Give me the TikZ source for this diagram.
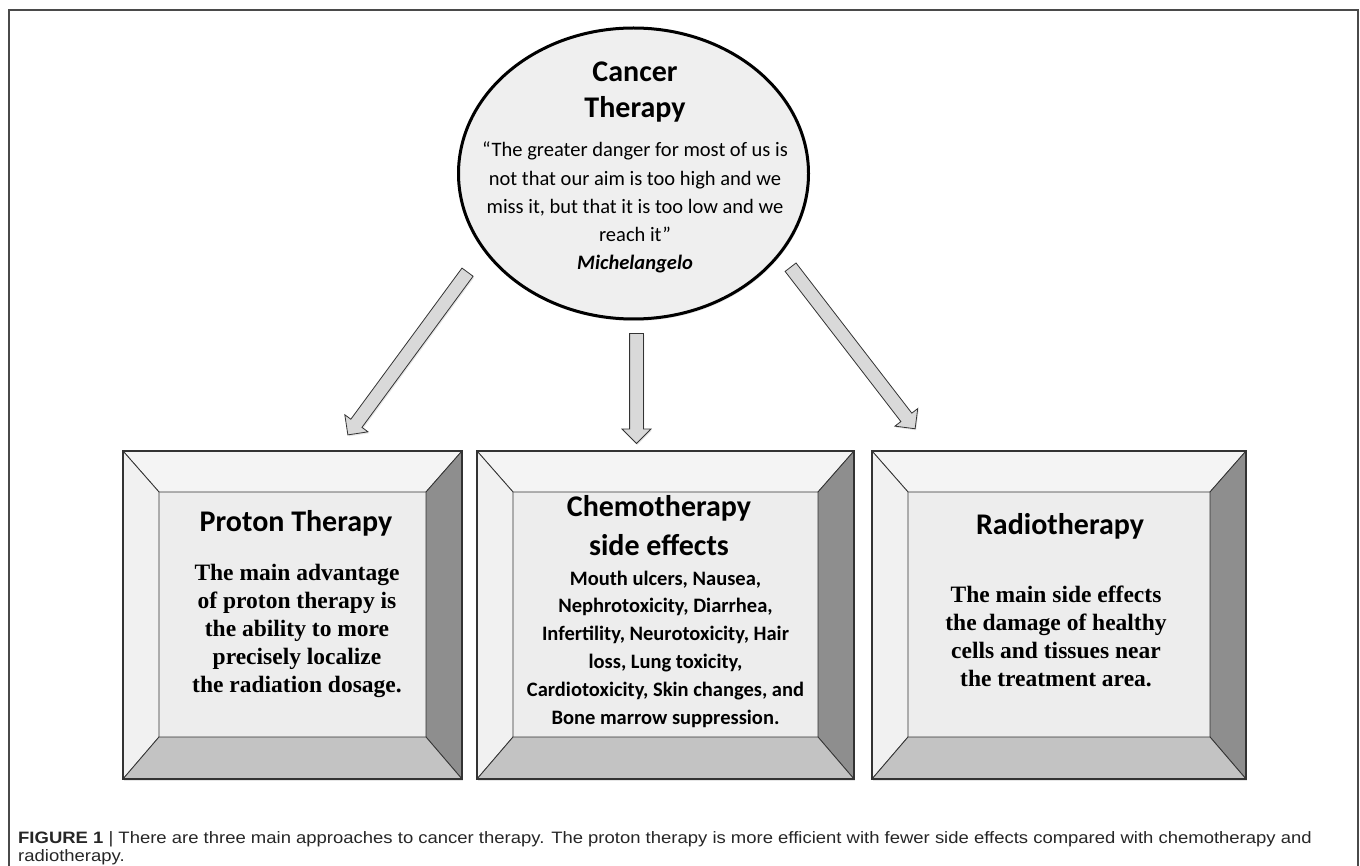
\documentclass[tikz,border=0pt]{standalone}
\usepackage{fontspec}
\setmainfont{Carlito}
\newfontfamily\serifb{Liberation Serif}
\newfontfamily\captf[FakeStretch=1.12]{Liberation Sans}
\usetikzlibrary{shapes.geometric,shapes.arrows,shadows}

\definecolor{frameline}{HTML}{4A4A4A}
\definecolor{boxedge}{HTML}{333333}
\definecolor{bvface}{HTML}{EDEDED}
\definecolor{bvtop}{HTML}{F4F4F4}
\definecolor{bvleft}{HTML}{F1F1F1}
\definecolor{bvright}{HTML}{8E8E8E}
\definecolor{bvbottom}{HTML}{C3C3C3}
\definecolor{ovalfill}{HTML}{EFEFEF}
\definecolor{arrowfill}{HTML}{D9D9D9}

\tikzset{
  bvline/.style={draw=boxedge, line width=0.8pt},
  bevelbox/.style={rectangle, draw=boxedge, line width=1.4pt, fill=bvface,
    inner sep=0pt, minimum width=#1, minimum height=328pt,
    drop shadow={opacity=.2, shadow xshift=1pt, shadow yshift=-2pt},
    path picture={
      \coordinate (oa) at (path picture bounding box.north west);
      \coordinate (ob) at (path picture bounding box.south east);
      \coordinate (ia) at ([shift={(36pt,-41pt)}]oa);
      \coordinate (ib) at ([shift={(-36pt,42pt)}]ob);
      \filldraw[bvline, fill=bvtop] (oa) -- (oa -| ob) -- (ia -| ib) -- (ia) -- cycle;
      \filldraw[bvline, fill=bvleft] (oa) -- (ia) -- (ia |- ib) -- (oa |- ob) -- cycle;
      \filldraw[bvline, fill=bvright] (oa -| ob) -- (ob) -- (ib) -- (ia -| ib) -- cycle;
      \filldraw[bvline, fill=bvbottom] (oa |- ob) -- (ob) -- (ib) -- (ia |- ib) -- cycle;
    }},
  blockarrow/.style={single arrow, draw=boxedge, fill=arrowfill, line width=0.8pt,
    minimum height=#1, single arrow head extend=7.5pt, inner xsep=0pt,
    inner ysep=6.5pt, text height=0pt, text depth=0pt,
    drop shadow={opacity=.2, shadow xshift=1pt, shadow yshift=-1.5pt},
    sloped, allow upside down, midway},
  headtext/.style={font=\bfseries\fontsize{30}{36}\selectfont, align=center,
    anchor=base, inner sep=0pt},
  bodyserif/.style={font=\serifb\bfseries\fontsize{23.5}{28}\selectfont,
    align=center, anchor=base, inner sep=0pt},
  bodysans/.style={font=\bfseries\fontsize{20.5}{27.8}\selectfont,
    align=center, anchor=base, inner sep=0pt}
}

\begin{document}
\begin{tikzpicture}[x=1pt, y=-1pt]
  \useasboundingbox (0,0) rectangle (1360,866);
  % outer frame of the figure
  \draw[frameline, line width=1.5pt] (9,870) -- (9,10) -- (1358,10) -- (1358,870);

  % central oval (anchors below are on the last line of each text)
  \node[ellipse, draw=black, line width=3pt, fill=ovalfill, minimum width=350pt,
    minimum height=291pt, inner sep=0pt,
    drop shadow={opacity=.2, shadow xshift=1pt, shadow yshift=-2pt}] (ct) at (633.5,173.5) {};
  \node[headtext] (cttitle) at (635,118) {Cancer\\Therapy};
  \node[font=\fontsize{20.5}{28.3}\selectfont, align=center, anchor=base, inner sep=0pt]
    (quote) at (635,270) {\textquotedblleft The greater danger for most of us is\\
    not that our aim is too high and we\\miss it, but that it is too low and we\\
    reach it\textquotedblright\\\textbf{\textit{Michelangelo}}};

  % the three approaches
  \node[bevelbox=339pt] (proton) at (292.5,615) {};
  \node[bevelbox=377pt] (chemo) at (665.5,615) {};
  \node[bevelbox=374pt] (radio) at (1059,615) {};

  \node[headtext] (protonhead) at (296,531) {Proton Therapy};
  \node[bodyserif] (protontxt) at (297,692) {The main advantage\\of proton therapy is\\
    the ability to more\\precisely localize\\the radiation dosage.};

  \node[headtext, font=\bfseries\fontsize{30}{39}\selectfont] (chemohead) at (659,555)
    {Chemotherapy\\side effects};
  \node[bodysans] (chemotxt) at (665.5,724) {Mouth ulcers, Nausea,\\
    Nephrotoxicity, Diarrhea,\\Infertility, Neurotoxicity, Hair\\loss, Lung toxicity,\\
    Cardiotoxicity, Skin changes, and\\Bone marrow suppression.};

  \node[headtext] (radiohead) at (1060,534) {Radiotherapy};
  \node[bodyserif] (radiotxt) at (1056,686) {The main side effects\\
    the damage of healthy\\cells and tissues near\\the treatment area.};

  % block arrows
  \coordinate (tailL) at (469.5,269.5);
  \coordinate (tipL) at (350,432);
  \coordinate (tailM) at (636.5,330);
  \coordinate (tipM) at (636.5,440);
  \coordinate (tailR) at (788.5,264.5);
  \coordinate (tipR) at (913,426);
  \path (tailL) -- (tipL) node[blockarrow=202pt] (arrL) {};
  \path (tailM) -- (tipM) node[blockarrow=110pt] (arrM) {};
  \path (tailR) -- (tipR) node[blockarrow=204pt] (arrR) {};

  % caption
  \node[font=\captf\fontsize{16.5}{18}\selectfont, color=black!85, align=left,
    anchor=base west, inner sep=0pt] (caption) at (18,861.5)
    {\textbf{FIGURE 1} | There are three main approaches to cancer therapy. The proton therapy is more efficient with fewer side effects compared with chemotherapy and\\radiotherapy.};
\end{tikzpicture}
\end{document}
